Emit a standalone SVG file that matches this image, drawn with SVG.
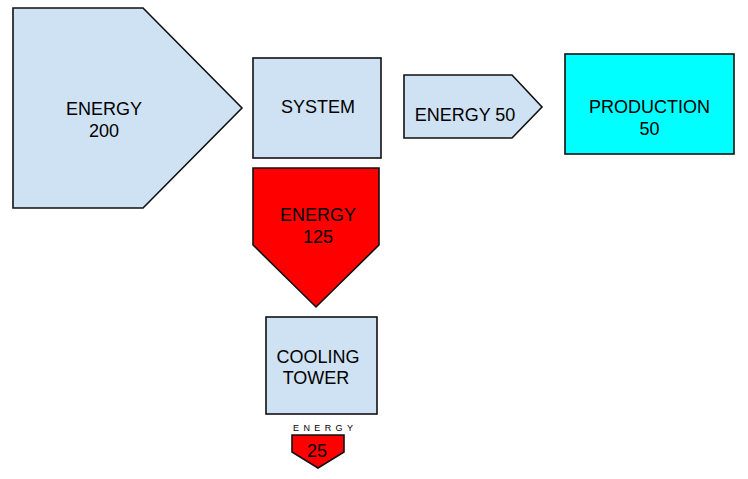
<svg xmlns="http://www.w3.org/2000/svg" width="748" height="479" viewBox="0 0 748 479">
<style>
.s{stroke:#111111;stroke-width:1.6;stroke-linejoin:miter}
.b{fill:#cfe2f3}
.r{fill:#ff0000}
.c{fill:#00ffff}
text{font-family:"Liberation Sans",Arial,sans-serif;font-size:18px;fill:#000;text-anchor:middle}
.sm{font-size:9px;letter-spacing:4.4px;text-anchor:start}
</style>
<rect width="748" height="479" fill="#ffffff"/>
<g id="energy200">
<polygon class="s b" points="13,8 143,8 242,108 143,208 13,208"/>
<text x="104" y="115">ENERGY</text>
<text x="104" y="137">200</text>
</g>
<g id="system">
<rect class="s b" x="253" y="58" width="128" height="100"/>
<text x="318" y="113">SYSTEM</text>
</g>
<g id="energy50">
<polygon class="s b" points="404,75 512,75 542,107 512,138 404,138"/>
<text x="465" y="121">ENERGY 50</text>
</g>
<g id="production">
<rect class="s c" x="565" y="54" width="169" height="100"/>
<text x="649.5" y="113">PRODUCTION</text>
<text x="649.5" y="135">50</text>
</g>
<g id="energy125">
<polygon class="s r" points="253,168 379,168 379,245 316,307 253,245"/>
<text x="318" y="221">ENERGY</text>
<text x="318" y="243">125</text>
</g>
<g id="cooling">
<rect class="s b" x="266" y="317" width="111" height="97"/>
<text x="318" y="363">COOLING</text>
<text x="316" y="384">TOWER</text>
</g>
<g id="energy25">
<text class="sm" x="293" y="431">ENERGY</text>
<polygon class="s r" points="292,435 344,435 344,452 318,468 292,452"/>
<text x="317" y="457">25</text>
</g>
<g id="connectors"></g>
</svg>
